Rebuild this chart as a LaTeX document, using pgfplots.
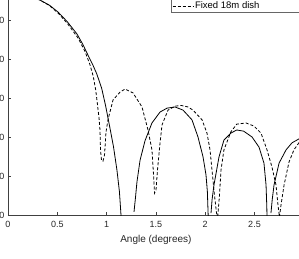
\documentclass[border=0pt]{standalone}
\usepackage{fontspec}
\setmainfont{Liberation Sans}
\usepackage{pgfplots}
\pgfplotsset{compat=1.18}
\begin{document}
\begin{tikzpicture}
\useasboundingbox (-8pt,-43pt) rectangle (291pt,215pt);
\clip (-8pt,-43pt) rectangle (291pt,215pt);
\begin{axis}[
  at={(0pt,0pt)}, anchor=south west,
  scale only axis, width=295.8pt, height=234pt,
  xmin=0, xmax=3, ymin=-60, ymax=0,
  xtick={0,0.5,1,1.5,2,2.5,3}, ytick={-60,-50,-40,-30,-20,-10,0},
  tick align=inside, major tick length=3pt,
  axis line style={black!75, line width=0.5pt},
  tick style={black!75, line width=0.5pt},
  ticklabel style={font=\fontsize{9}{10}\selectfont, text=black!85},
  xticklabel style={yshift=-2.5pt},
  /pgf/number format/assume math mode=true,
  xlabel={Angle (degrees)},
  xlabel style={font=\fontsize{10}{12}\selectfont, text=black!85, yshift=-1pt},
  unbounded coords=jump,
  legend style={at={(axis cs:1.653,-8.2)}, anchor=south west, draw=black!60,
    line width=0.5pt, font=\fontsize{9.5}{10.5}\selectfont, inner xsep=1pt, inner ysep=1.5pt,
    row sep=3pt, nodes={inner sep=1pt}},
  legend cell align=left,
  legend image code/.code={\draw[#1] (0pt,0pt) -- (21pt,0pt);},
]
\addplot[black, line width=0.8pt] coordinates {
(0,-2.8)(0.1,-3.1)(0.2,-3.6)(0.325,-4.9)(0.42,-6.2)(0.507,-7.95)(0.6,-10.4)(0.7,-13.6)(0.76,-16.3)(0.811,-19.0)(0.86,-21.5)(0.9,-23.8)(0.95,-27.5)(0.99,-32)(1.034,-37.7)(1.07,-42.5)(1.105,-48.5)(1.13,-54)(1.146,-60)(1.155,-66)
(1.2,nan)
(1.278,-59.2)(1.293,-55.5)(1.308,-51.5)(1.339,-46.0)(1.389,-41.0)(1.46,-36.4)(1.542,-33.6)(1.613,-32.6)(1.694,-32.3)(1.775,-33.1)(1.866,-35.6)(1.927,-40)(1.978,-45.1)(2.008,-49.7)(2.022,-54)(2.03,-60)(2.036,-66)
(2.045,nan)
(2.059,-59.5)(2.07,-56)(2.089,-52.3)(2.14,-45.1)(2.19,-40.8)(2.26,-39)(2.32,-38.2)(2.39,-38.5)(2.475,-40)(2.546,-42.6)(2.596,-46.7)(2.617,-52.3)(2.625,-58)(2.63,-66)
(2.65,nan)
(2.667,-59.5)(2.68,-56)(2.698,-52.3)(2.749,-46.7)(2.82,-43.3)(2.88,-41.5)(2.95,-40.5)(3.0,-40.1)
};
\addlegendentry{\makebox[104pt][l]{Steerable 18m dish}}
\addplot[black, line width=0.8pt, dash pattern=on 3pt off 2pt] coordinates {
(0,-2.8)(0.1,-3.1)(0.2,-3.6)(0.325,-4.9)(0.42,-6.3)(0.507,-8.2)(0.6,-10.8)(0.71,-14.6)(0.78,-18)(0.832,-21.5)(0.865,-24.5)(0.89,-28)(0.908,-31.8)(0.923,-35.1)(0.933,-38.2)(0.938,-43.3)(0.948,-45.9)(0.963,-46.2)(0.979,-44.6)(0.994,-38.7)(1.014,-35.6)(1.065,-30.5)(1.136,-28.5)(1.187,-27.7)(1.268,-28.7)(1.359,-32.3)(1.42,-38.2)(1.46,-43.3)(1.476,-49.7)(1.486,-54.4)(1.501,-53.6)(1.516,-48.5)(1.542,-41.5)(1.562,-36.9)(1.623,-33.1)(1.694,-32.1)(1.755,-31.9)(1.826,-32.3)(1.876,-33.1)(1.968,-35.6)(2.018,-39)(2.049,-43.3)(2.069,-48.5)(2.094,-54.9)(2.115,-59.5)(2.125,-61)(2.145,-54.9)(2.16,-48.5)(2.19,-43.3)(2.26,-38.7)(2.32,-36.7)(2.414,-36.4)(2.495,-37.2)(2.566,-39)(2.627,-43.3)(2.677,-47.7)(2.718,-52.3)(2.738,-57.4)(2.753,-60.5)(2.769,-57.4)(2.8,-52.3)(2.85,-46.4)(2.9,-43.3)(2.95,-41.5)(3.0,-40.5)
};
\addlegendentry{Fixed 18m dish}
\end{axis}
\end{tikzpicture}
\end{document}
